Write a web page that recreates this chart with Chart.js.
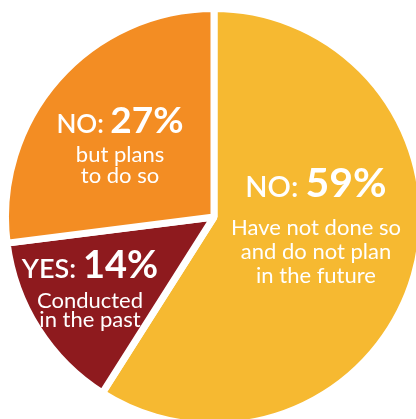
<!DOCTYPE html>
<html>
<head>
<meta charset="utf-8">
<script src="https://cdn.jsdelivr.net/npm/chart.js@4.4.1/dist/chart.umd.min.js"></script>
<style>
  html, body { margin: 0; padding: 0; background: #fff; overflow: hidden; }
  body { width: 416px; height: 419px; position: relative; }
  #wrap { position: absolute; left: 2px; top: 5px; width: 424px; height: 424px; }
</style>
</head>
<body>
<div id="wrap"><canvas id="pie" width="424" height="424"></canvas></div>
<script>
// Survey answers, clockwise from 12 o'clock
const answers = ['NO:', 'YES:', 'NO:'];
const shares = [59, 14, 27];
const captions = [
  ['Have not done so', 'and do not plan', 'in the future'],
  ['Conducted', 'in the past'],
  ['but plans', 'to do so']
];
const sliceColors = ['#F6B931', '#8E1A1E', '#F38D23'];

// Where each label block sits, relative to the pie centre
// dy = heading baseline, gap = heading -> first caption line
const labelLayout = [
  { dx: 102, dy: -20, head: 29, pct: 41, sub: 22, gap: 38, lead: 24 },
  { dx: -124, dy: 61, head: 27, pct: 38, sub: 22, gap: 30, lead: 19 },
  { dx: -94, dy: -84, head: 26, pct: 37, sub: 22, gap: 29, lead: 21 }
];

const FONT = 'Lato, "Open Sans", sans-serif';

// Draws the "NO: 59%" heading and caption lines inside each slice
const sliceLabels = {
  id: 'sliceLabels',
  afterDatasetsDraw(chart) {
    const ctx = chart.ctx;
    const arc = chart.getDatasetMeta(0).data[0];
    const cx = arc.x, cy = arc.y;
    ctx.save();
    ctx.fillStyle = '#fff';
    ctx.textBaseline = 'alphabetic';
    shares.forEach((v, i) => {
      const L = labelLayout[i];
      const x = cx + L.dx, y = cy + L.dy;
      const headText = answers[i] + ' ';
      const pctText = v + '%';
      ctx.font = '600 ' + L.head + 'px ' + FONT;
      const w1 = ctx.measureText(headText).width;
      ctx.font = 'bold ' + L.pct + 'px ' + FONT;
      const w2 = ctx.measureText(pctText).width;
      const left = x - (w1 + w2) / 2;
      ctx.textAlign = 'left';
      ctx.font = '600 ' + L.head + 'px ' + FONT;
      ctx.fillText(headText, left, y);
      ctx.font = 'bold ' + L.pct + 'px ' + FONT;
      ctx.fillText(pctText, left + w1, y);

      ctx.textAlign = 'center';
      ctx.font = L.sub + 'px ' + FONT;
      captions[i].forEach((line, k) => {
        ctx.fillText(line, x, y + L.gap + k * L.lead);
      });
    });
    ctx.restore();
  }
};

new Chart(document.getElementById('pie'), {
  type: 'pie',
  data: {
    labels: captions.map(c => c.join(' ')),
    datasets: [{
      data: shares,
      backgroundColor: sliceColors,
      borderColor: '#fff',
      borderWidth: 7
    }]
  },
  options: {
    responsive: false,
    animation: false,
    layout: { padding: 0 },
    plugins: {
      legend: { display: false },
      tooltip: { enabled: false }
    }
  },
  plugins: [sliceLabels]
});
</script>
</body>
</html>
